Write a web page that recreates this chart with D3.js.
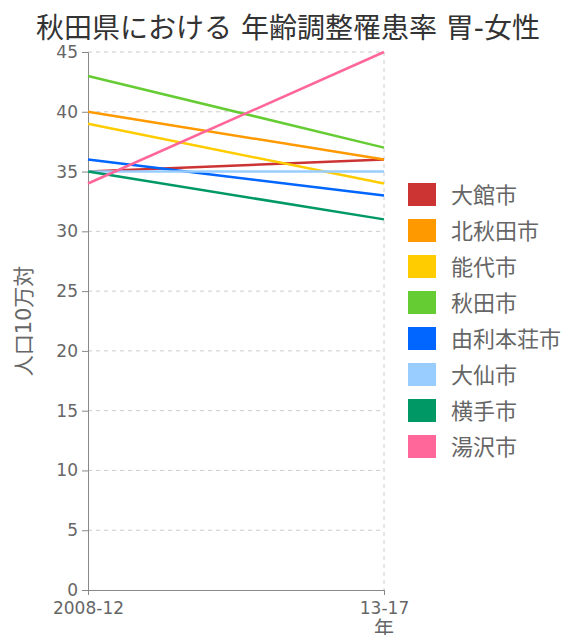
<!DOCTYPE html>
<html>
<head>
<meta charset="utf-8">
<script src="https://cdn.jsdelivr.net/npm/d3@7"></script>
<style>
  html, body { margin: 0; padding: 0; background: #fff; }
  svg { display: block; font-family: "DejaVu Sans", "Noto Sans CJK JP", sans-serif; }
</style>
</head>
<body>
<svg id="chart" width="568" height="635"></svg>
<script>
// Periods on the x axis
const periods = ["2008-12", "13-17"];

// Cities (series names) and their colours
const cities = ["大館市", "北秋田市", "能代市", "秋田市", "由利本荘市", "大仙市", "横手市", "湯沢市"];
const colors = ["#cc3333", "#ff9900", "#ffcc00", "#66cc33", "#0066ff", "#99ccff", "#009966", "#ff6699"];

// Age-adjusted incidence per 100k, one value per period
const odate     = [35, 36];
const kitaAkita = [40, 36];
const noshiro   = [39, 34];
const akita     = [43, 37];
const yurihonjo = [36, 33];
const daisen    = [35, 35];
const yokote    = [35, 31];
const yuzawa    = [34, 45];
const seriesValues = [odate, kitaAkita, noshiro, akita, yurihonjo, daisen, yokote, yuzawa];

// Y axis ticks
const yTicks = [0, 5, 10, 15, 20, 25, 30, 35, 40, 45];

const title = "秋田県における 年齢調整罹患率 胃-女性";
const yLabel = "人口10万対";
const xLabel = "年";

const svg = d3.select("#chart");
const margin = { left: 88, right: 184, top: 52, bottom: 45 };
const W = 568, H = 635;

const x = d3.scalePoint().domain(periods).range([margin.left, W - margin.right]);
const y = d3.scaleLinear().domain([0, 45]).range([H - margin.bottom, margin.top]);

const gridColor = "#cccccc";
const axisColor = "#888888";
const textColor = "#666666";

// Horizontal dashed grid
svg.append("g")
  .selectAll("line")
  .data(yTicks.filter(d => d > 0))
  .join("line")
  .attr("x1", margin.left).attr("x2", W - margin.right)
  .attr("y1", d => y(d)).attr("y2", d => y(d))
  .attr("stroke", gridColor).attr("stroke-width", 1)
  .attr("stroke-dasharray", "4,4");

// Vertical dashed grid at the last period
svg.append("line")
  .attr("x1", x(periods[1])).attr("x2", x(periods[1]))
  .attr("y1", y(45)).attr("y2", y(0))
  .attr("stroke", gridColor).attr("stroke-width", 1)
  .attr("stroke-dasharray", "4,4");

// Y axis
const yAxis = svg.append("g")
  .attr("transform", `translate(${margin.left},0)`)
  .call(d3.axisLeft(y).tickValues(yTicks).tickSize(6).tickPadding(4));
yAxis.select(".domain").attr("stroke", axisColor);
yAxis.selectAll(".tick line").attr("stroke", axisColor);
yAxis.selectAll(".tick text")
  .attr("fill", textColor)
  .style("font-size", "17px")
  .style("font-family", "'DejaVu Sans', sans-serif");

// X axis
const xAxis = svg.append("g")
  .attr("transform", `translate(0,${y(0)})`)
  .call(d3.axisBottom(x).tickSize(5).tickPadding(7));
xAxis.select(".domain").attr("stroke", axisColor);
xAxis.selectAll(".tick line").attr("stroke", axisColor);
xAxis.selectAll(".tick text")
  .attr("fill", textColor)
  .style("font-size", "17px")
  .style("font-family", "'DejaVu Sans', sans-serif");

// Axis titles
svg.append("text")
  .attr("transform", `translate(24,${(y(0) + y(45)) / 2}) rotate(-90)`)
  .attr("text-anchor", "middle")
  .attr("dy", "0.35em")
  .attr("fill", textColor)
  .style("font-size", "21px")
  .text(yLabel);

svg.append("text")
  .attr("x", x(periods[1]))
  .attr("y", 636)
  .attr("text-anchor", "middle")
  .attr("fill", textColor)
  .style("font-size", "20px")
  .text(xLabel);

// Series lines
const line = d3.line().x((d, i) => x(periods[i])).y(d => y(d));
svg.append("g")
  .selectAll("path")
  .data(seriesValues)
  .join("path")
  .attr("d", d => line(d))
  .attr("fill", "none")
  .attr("stroke", (d, i) => colors[i])
  .attr("stroke-width", 2.5);

// Legend
const legend = svg.append("g").attr("transform", "translate(408,183)");
const rows = legend.selectAll("g")
  .data(cities)
  .join("g")
  .attr("transform", (d, i) => `translate(0,${i * 36})`);
rows.append("rect")
  .attr("width", 28).attr("height", 23)
  .attr("fill", (d, i) => colors[i]);
rows.append("text")
  .attr("x", 43).attr("y", 12)
  .attr("dy", "0.36em")
  .attr("fill", textColor)
  .style("font-size", "22px")
  .text(d => d);

// Title
svg.append("text")
  .attr("x", 288).attr("y", 38)
  .attr("text-anchor", "middle")
  .attr("fill", "#333333")
  .style("font-size", "28px")
  .text(title);
</script>
</body>
</html>
